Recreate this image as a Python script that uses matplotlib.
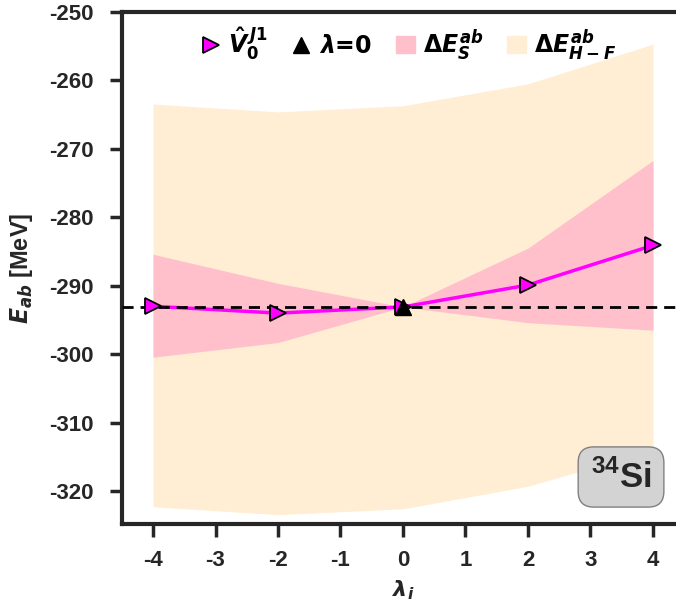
import numpy as np
import matplotlib.pyplot as plt
from matplotlib.patches import Patch

# values
lam = [-4, -2, 0, 2, 4]
e_v0j1 = [-293.0, -294.0, -293.1, -289.9, -284.1]
e_ref = -293.1
s_upper = [-285.4, -289.65, -293.1, -284.5, -271.7]
s_lower = [-300.45, -298.3, -293.1, -295.4, -296.5]
hf_upper = [-263.45, -264.6, -263.7, -260.5, -254.7]
hf_lower = [-322.3, -323.45, -322.6, -319.3, -314.0]
xticks = [-4, -3, -2, -1, 0, 1, 2, 3, 4]
yticks = [-320, -310, -300, -290, -280, -270, -260, -250]

plt.rcParams['mathtext.fontset'] = 'custom'
plt.rcParams['mathtext.it'] = 'DejaVu Sans:italic:bold'
plt.rcParams['mathtext.rm'] = 'DejaVu Sans:bold'
plt.rcParams['mathtext.bf'] = 'DejaVu Sans:bold'

dark = '#262626'
fig = plt.figure(figsize=(6.76, 6.14), dpi=100)
ax = fig.add_axes([121.75 / 676, 90 / 614, 562.5 / 676, 512 / 614])

ax.fill_between(lam, hf_lower, hf_upper, color='#ffedd4', lw=0, zorder=1)
ax.fill_between(lam, s_lower, s_upper, color='pink', lw=0, zorder=1.5)
ax.plot(lam, e_v0j1, color='magenta', lw=2.5, zorder=2)
ax.axhline(e_ref, color='black', ls='--', lw=2, dashes=(4, 2.5), zorder=3)
ax.plot(lam, e_v0j1, ls='none', marker='>', ms=11, mfc='magenta', mec='black',
        mew=1.3, zorder=4)
ax.plot([0], [e_ref], ls='none', marker='^', ms=12, color='black', zorder=4)

handles = [
    plt.Line2D([], [], ls='none', marker='>', ms=11, mfc='magenta', mec='black', mew=1.3),
    plt.Line2D([], [], ls='none', marker='^', ms=12, color='black'),
    Patch(color='pink'),
    Patch(color='#ffedd4'),
]
labels = [r'$\hat{V}_0^{\,J1}$', r'$\lambda$=0', r'$\Delta E_S^{ab}$', r'$\Delta E_{H-F}^{ab}$']
ax.legend(handles, labels, loc='upper center', bbox_to_anchor=(0.51, 1.015), ncol=4,
          frameon=False, prop={'weight': 'bold', 'size': 17}, handlelength=0.8,
          handletextpad=0.35, columnspacing=1.0)

ax.set_xlim(-4.5, 4.5)
ax.set_ylim(-324.82, -250)
ax.set_xticks(xticks)
ax.set_yticks(yticks)
ax.set_xticklabels([str(t) for t in xticks])
ax.set_yticklabels([str(t) for t in yticks])
for lab in ax.get_xticklabels() + ax.get_yticklabels():
    lab.set_fontfamily('Liberation Sans')
    lab.set_fontweight('bold')
    lab.set_fontsize(16)
    lab.set_color(dark)
ax.tick_params(axis='y', length=9, width=2.5, color=dark, pad=11)
ax.tick_params(axis='x', length=9, width=2.5, color=dark, pad=10)
for sp in ax.spines.values():
    sp.set_linewidth(3)
    sp.set_color(dark)

ax.set_xlabel(r'$\lambda_i$', fontsize=16, color=dark, labelpad=5)
ax.set_ylabel(r'$E_{ab}$ [MeV]', fontsize=17, color=dark, fontweight='bold',
              fontfamily='Liberation Sans', labelpad=10)

ax.text(0.8876, 0.0918, r'$^{\mathregular{34}}$Si', transform=ax.transAxes, fontsize=25,
        fontweight='bold', fontfamily='Liberation Sans', color=dark, ha='center', va='center',
        bbox=dict(boxstyle='round,pad=0.36,rounding_size=0.45', fc='lightgray', ec='gray'),
        zorder=5)

fig.savefig('out.png', dpi=100)
